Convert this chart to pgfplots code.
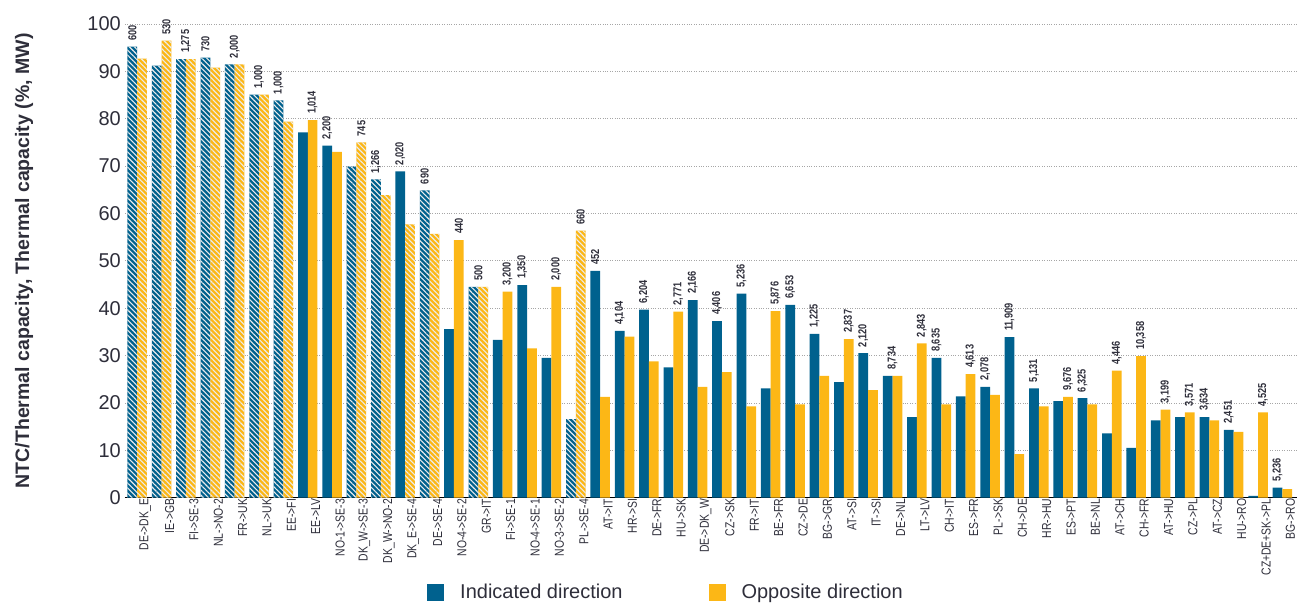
\documentclass[border=0pt]{standalone}
\usepackage{pgfplots}
\pgfplotsset{compat=1.18}
\usetikzlibrary{patterns.meta}
\usepackage{fontspec}
\setmainfont{Liberation Sans}
\newfontfamily\narrowfont[FakeStretch=0.8]{Liberation Sans}
\definecolor{cblue}{HTML}{00618E}
\definecolor{cyell}{HTML}{FCB716}
\definecolor{ctxt}{HTML}{2E2E3A}
\tikzset{hatch/.style={postaction={pattern={Lines[angle=-45,distance=3.6pt,line width=1.1pt]},pattern color=white!85!gray}}}
\begin{document}
\begin{tikzpicture}
\path[use as bounding box] (-125pt,-117.3pt) rectangle (1177pt,497.7pt);
\begin{axis}[
  at={(0,0)}, anchor=south west,
  scale only axis, width=1172pt, height=473.7pt,
  xmin=-0.5, xmax=47.6, ymin=0, ymax=100,
  clip=false,
  axis x line*=bottom, axis y line*=left,
  x axis line style={black,line width=1.3pt},
  y axis line style={draw=none},
  major tick length=0pt,
  ytick={0,10,...,100},
  ymajorgrids, grid style={dotted,gray!70,line width=0.9pt},
  /pgf/number format/assume math mode=true,
  yticklabel style={font=\fontsize{20}{24}\selectfont, text=ctxt, inner sep=4pt},
  xtick={0,...,47},
  xticklabels={DE->DK\_E,IE->GB,FI->SE-3,NL->NO-2,FR->UK,NL->UK,EE->FI,EE->LV,NO-1->SE-3,DK\_W->SE-3,DK\_W->NO-2,DK\_E->SE-4,DE->SE-4,NO-4->SE-2,GR->IT,FI->SE-1,NO-4->SE-1,NO-3->SE-2,PL->SE-4,AT->IT,HR->SI,DE->FR,HU->SK,DE->DK\_W,CZ->SK,FR->IT,BE->FR,CZ->DE,BG->GR,AT->SI,IT->SI,DE->NL,LT->LV,CH->IT,ES->FR,PL->SK,CH->DE,HR->HU,ES->PT,BE->NL,AT->CH,CH->FR,AT->HU,CZ->PL,AT->CZ,HU->RO,CZ+DE+SK->PL,BG->RO},
  xticklabel style={rotate=90, anchor=east, font=\narrowfont\fontsize{13}{15}\selectfont, text=ctxt, inner sep=1pt, yshift=-8pt},
  ylabel={NTC/Thermal capacity, Thermal capacity (\%, MW)},
  ylabel style={at={(axis description cs:-0.0862,0.5)}, anchor=center, font=\bfseries\fontsize{19.5}{22}\selectfont, text=ctxt},
  legend columns=2,
  legend style={at={(0.4616,-0.1991)}, anchor=center, draw=none, fill=none,
    font=\fontsize{20}{24}\selectfont, text=ctxt,
    /tikz/every even column/.append style={column sep=84pt},
    /tikz/every odd column/.append style={column sep=14pt}},
  legend image code/.code={\fill[#1] (0pt,-8.5pt) rectangle (17pt,8.5pt);},
]
\addlegendimage{fill=cblue,draw=none}
\addlegendentry{Indicated direction}
\addlegendimage{fill=cyell,draw=none}
\addlegendentry{Opposite direction}
% Indicated direction, solid
\addplot[forget plot, ybar, bar width=0.4, bar shift=-0.2, fill=cblue, draw=none] coordinates {
(7,77.1) (8,74.3) (11,68.9) (13,35.6) (15,33.3) (16,44.9) (17,29.5)
(19,47.9) (20,35.2) (21,39.7) (22,27.5) (23,41.7) (24,37.3) (25,43.1) (26,23.1) (27,40.7)
(28,34.6) (29,24.4) (30,30.5) (31,25.7) (32,17.0) (33,29.5) (34,21.4) (35,23.4) (36,33.9)
(37,23.1) (38,20.4) (39,21.0) (40,13.6) (41,10.5) (42,16.3) (43,17.0) (44,17.0) (45,14.3)
(46,0.4) (47,2.1)};
% Indicated direction, hatched
\addplot[forget plot, ybar, bar width=0.4, bar shift=-0.2, fill=cblue, draw=none, hatch] coordinates {
(0,95.2) (1,91.2) (2,92.6) (3,92.9) (4,91.5) (5,85.1) (6,83.9) (9,69.9) (10,67.2) (12,64.9) (14,44.5) (18,16.6)};
% Opposite direction, solid
\addplot[forget plot, ybar, bar width=0.4, bar shift=0.2, fill=cyell, draw=none] coordinates {
(7,79.7) (8,73.0) (13,54.4) (15,43.5) (16,31.5) (17,44.5)
(19,21.3) (20,34.0) (21,28.8) (22,39.3) (23,23.4) (24,26.5) (25,19.3) (26,39.4) (27,19.7)
(28,25.7) (29,33.5) (30,22.7) (31,25.7) (32,32.6) (33,19.7) (34,26.1) (35,21.7) (36,9.2)
(37,19.3) (38,21.3) (39,19.7) (40,26.8) (41,29.9) (42,18.6) (43,18.0) (44,16.3) (45,13.9)
(46,18.0) (47,1.8)};
% Opposite direction, hatched
\addplot[forget plot, ybar, bar width=0.4, bar shift=0.2, fill=cyell, draw=none, hatch] coordinates {
(0,92.7) (1,96.5) (2,92.6) (3,90.8) (4,91.5) (5,85.1) (6,79.4) (9,75.0) (10,63.9) (11,57.7) (12,55.7) (14,44.5) (18,56.4)};
% capacity labels
\addplot[forget plot, only marks, mark=none, nodes near coords, point meta=explicit symbolic,
  nodes near coords style={rotate=90, anchor=west, inner xsep=6pt, inner ysep=0pt,
  font=\narrowfont\bfseries\fontsize{11.5}{12}\selectfont, text=ctxt}]
  table[meta=lab] {
x y lab
-0.2 95.2 600
1.2 96.5 530
2 92.6 1,275
2.8 92.9 730
4 91.5 2,000
5 85.1 1,000
5.8 83.9 1,000
7.2 79.7 1,014
7.8 74.3 2,200
9.2 75.0 745
9.8 67.2 1,266
10.8 68.9 2,020
11.8 64.9 690
13.2 54.4 440
14 44.5 500
15.2 43.5 3,200
15.8 44.9 1,350
17.2 44.5 2,000
18.2 56.4 660
18.8 47.9 452
19.8 35.2 4,104
20.8 39.7 6,204
22.2 39.3 2,771
22.8 41.7 2,166
23.8 37.3 4,406
24.8 43.1 5,236
26.2 39.4 5,876
26.8 40.7 6,653
27.8 34.6 1,225
29.2 33.5 2,837
29.8 30.5 2,120
31 25.7 8,734
32.2 32.6 2,843
32.8 29.5 8,635
34.2 26.1 4,613
34.8 23.4 2,078
35.8 33.9 11,909
36.8 23.1 5,131
38.2 21.3 9,676
38.8 21.0 6,325
40.2 26.8 4,446
41.2 29.9 10,358
42.2 18.6 3,199
43.2 18.0 3,571
43.8 17.0 3,634
44.8 14.3 2,451
46.2 18.0 4,525
46.8 2.1 5,236
};
\end{axis}
\end{tikzpicture}
\end{document}
